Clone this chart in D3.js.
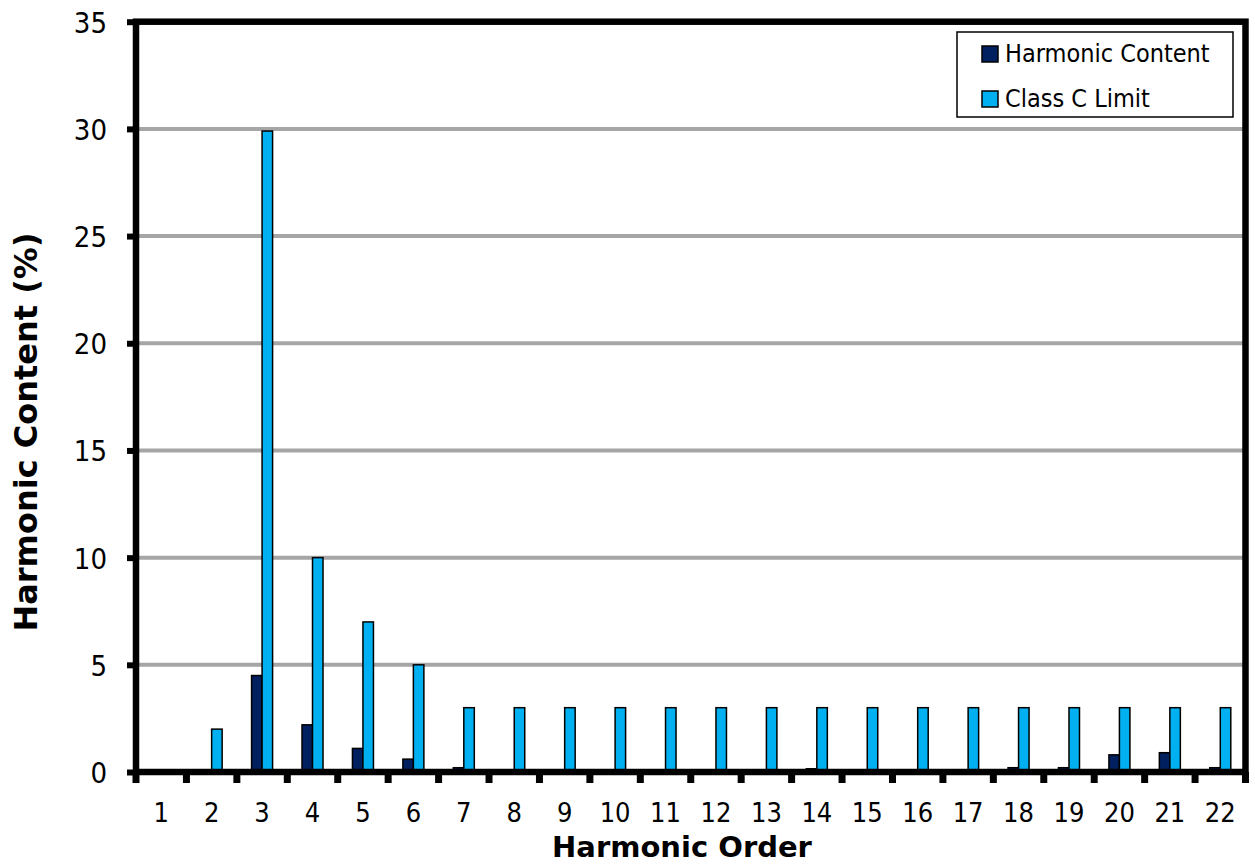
<!DOCTYPE html>
<html>
<head>
<meta charset="utf-8">
<script src="https://cdn.jsdelivr.net/npm/d3@7"></script>
<style>
  html, body { margin: 0; padding: 0; background: #fff; }
  svg { display: block; }
  text { font-family: "DejaVu Sans Condensed", "DejaVu Sans", sans-serif; fill: #000; }
  text.title { font-family: "DejaVu Sans", sans-serif; font-weight: bold; }
</style>
</head>
<body>
<svg id="chart" width="1255" height="867"></svg>
<script>
// ---- data ----
const categories = ["1","2","3","4","5","6","7","8","9","10","11","12","13","14","15","16","17","18","19","20","21","22"];
const seriesNames = ["Harmonic Content", "Class C Limit"];
const harmonicContent = [0, 0, 4.5, 2.2, 1.1, 0.6, 0.2, 0.1, 0, 0, 0, 0, 0, 0.15, 0, 0.1, 0, 0.2, 0.2, 0.8, 0.9, 0.2];
const classCLimit = [0, 2, 29.9, 10, 7, 5, 3, 3, 3, 3, 3, 3, 3, 3, 3, 3, 3, 3, 3, 3, 3, 3];
const yTickValues = [0, 5, 10, 15, 20, 25, 30, 35];
const seriesColors = ["#002060", "#00b0f0"];

// ---- layout ----
const svg = d3.select("#chart");
const mLeft = 136, mRight = 1245.5, mTop = 21.7, mBottom = 772;

const x = d3.scaleBand().domain(categories).range([mLeft, mRight]).padding(0);
const y = d3.scaleLinear().domain([0, 35]).range([mBottom, mTop]);
const barW = 10.5;
const x1 = d3.scaleBand().domain(seriesNames)
  .range([x.bandwidth() / 2 - barW, x.bandwidth() / 2 + barW]).padding(0);

const data = categories.map((c, i) => ({ cat: c, values: [harmonicContent[i], classCLimit[i]] }));

// gridlines
svg.append("g").selectAll("line")
  .data(yTickValues.filter(v => v > 0 && v < 35))
  .join("line")
  .attr("x1", mLeft).attr("x2", mRight)
  .attr("y1", d => y(d)).attr("y2", d => y(d))
  .attr("stroke", "#a6a6a6").attr("stroke-width", 4);

// bars
const groups = svg.append("g").selectAll("g")
  .data(data).join("g")
  .attr("transform", d => `translate(${x(d.cat)},0)`);
groups.selectAll("rect")
  .data(d => d.values.map((v, i) => ({ name: seriesNames[i], v, i })).filter(e => e.v > 0))
  .join("rect")
  .attr("x", e => x1(e.name))
  .attr("width", x1.bandwidth())
  .attr("y", e => y(e.v))
  .attr("height", e => y(0) - y(e.v))
  .attr("fill", e => seriesColors[e.i])
  .attr("stroke", "#000").attr("stroke-width", 1.5);

// y axis (ticks + labels)
const yAxis = d3.axisLeft(y).tickValues(yTickValues).tickSize(9).tickPadding(20).tickFormat(d3.format("d"));
const gy = svg.append("g").attr("transform", `translate(${mLeft},0)`).call(yAxis);
gy.select(".domain").remove();
gy.selectAll(".tick line").attr("stroke", "#000").attr("stroke-width", 6);
gy.selectAll(".tick text").style("font-size", "29px").attr("dy", "0.36em");

// x axis labels
const xAxis = d3.axisBottom(x).tickSize(0).tickPadding(30.5);
const gx = svg.append("g").attr("transform", `translate(0,${mBottom})`).call(xAxis);
gx.select(".domain").remove();
gx.selectAll(".tick text").style("font-size", "27px");

// x boundary ticks
const bounds = categories.map(c => x(c)).concat([mRight]);
svg.append("g").selectAll("line").data(bounds).join("line")
  .attr("x1", d => d).attr("x2", d => d)
  .attr("y1", mBottom).attr("y2", mBottom + 11)
  .attr("stroke", "#000").attr("stroke-width", 7);

// frame
svg.append("rect")
  .attr("x", mLeft).attr("y", mTop)
  .attr("width", mRight - mLeft).attr("height", mBottom - mTop)
  .attr("fill", "none").attr("stroke", "#000").attr("stroke-width", 6.5);

// axis titles
svg.append("text").attr("class", "title")
  .attr("x", 682).attr("y", 857)
  .attr("text-anchor", "middle")
  .style("font-size", "29px")
  .text("Harmonic Order");
svg.append("text").attr("class", "title")
  .attr("transform", "translate(37,432) rotate(-90)")
  .attr("text-anchor", "middle")
  .style("font-size", "32px")
  .text("Harmonic Content (%)");

// legend
const lg = svg.append("g").attr("transform", "translate(957,32)");
lg.append("rect").attr("width", 276).attr("height", 85)
  .attr("fill", "#fff").attr("stroke", "#000").attr("stroke-width", 1.5);
const items = lg.selectAll("g.item").data(seriesNames).join("g")
  .attr("class", "item")
  .attr("transform", (d, i) => `translate(25,${14 + i * 45})`);
items.append("rect").attr("width", 16).attr("height", 16)
  .attr("fill", (d, i) => seriesColors[i]).attr("stroke", "#000").attr("stroke-width", 1.5);
items.append("text").attr("x", 23).attr("y", 16)
  .style("font-size", "25px")
  .text(d => d);
</script>
</body>
</html>
